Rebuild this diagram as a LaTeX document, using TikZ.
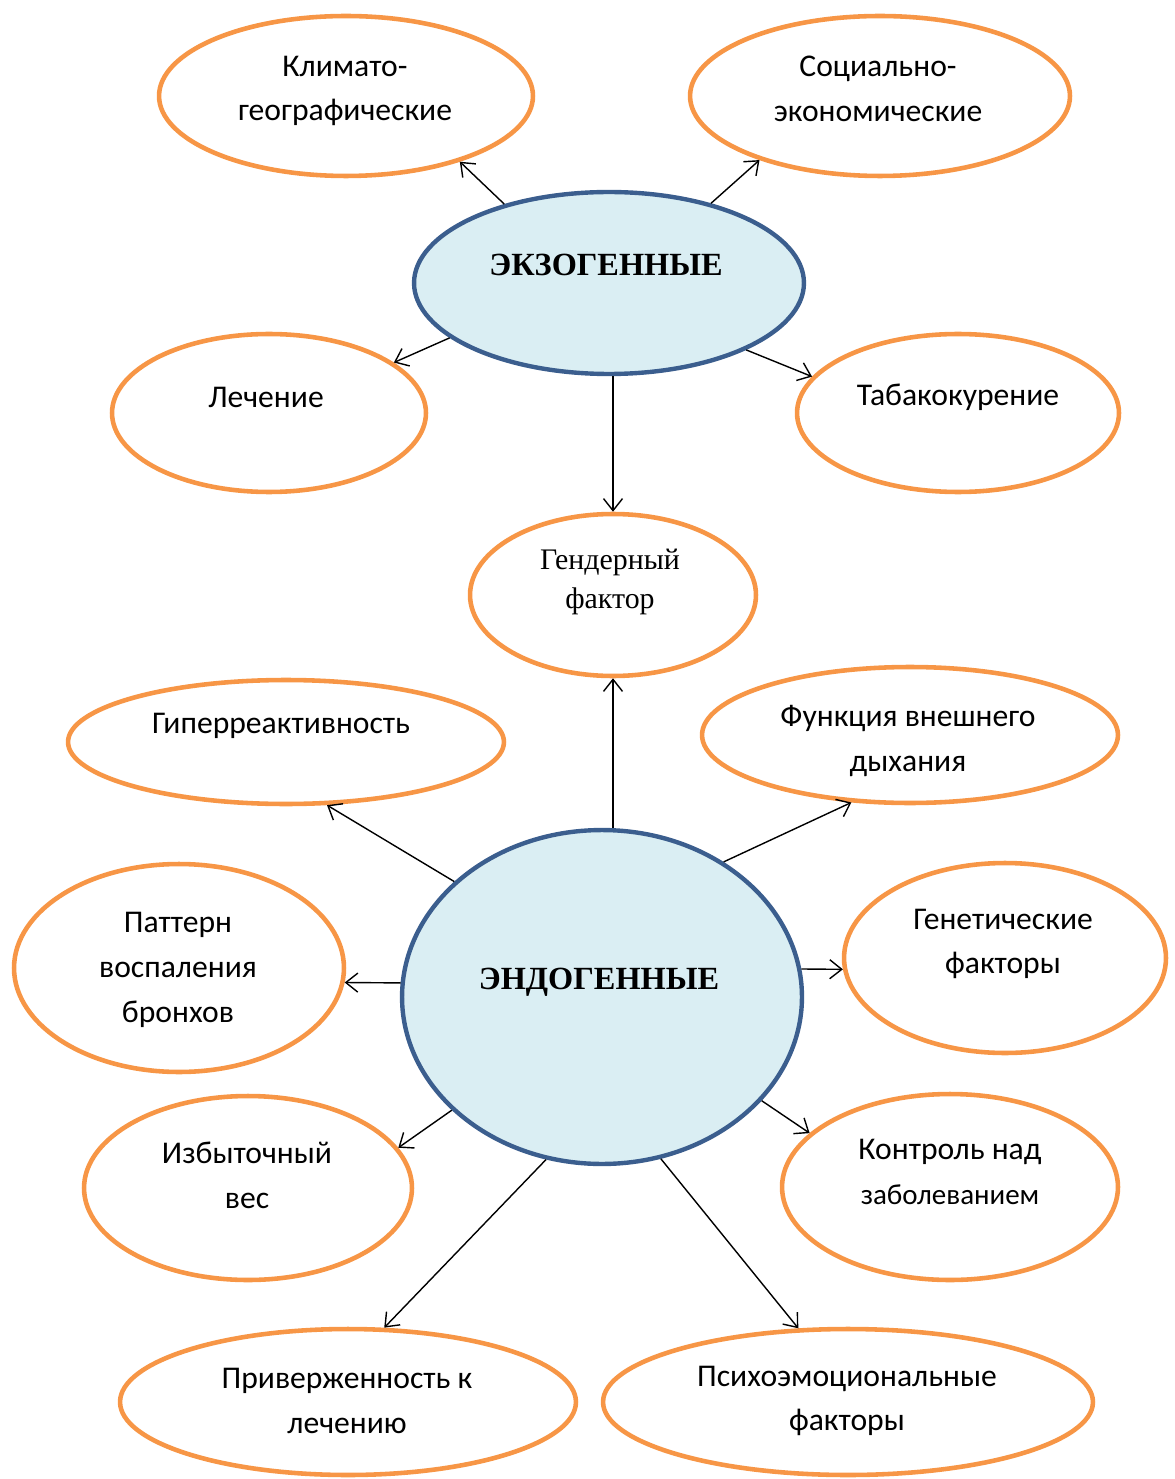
\documentclass[tikz,border=0pt]{standalone}
\usepackage{fontspec}
\setmainfont{Liberation Serif}
\newfontfamily\calib{Carlito}
\usetikzlibrary{arrows.meta,shapes.geometric}
\definecolor{ringorange}{HTML}{F79646}
\definecolor{coreblue}{HTML}{3B5E8E}
\definecolor{corefill}{HTML}{DAEEF3}

\begin{document}
\begin{tikzpicture}[x=0.02cm, y=-0.02cm,
  outer/.style={ellipse, draw=ringorange, line width=2.6pt, fill=white, inner sep=0pt},
  core/.style={ellipse, draw=coreblue, line width=2.5pt, fill=corefill, inner sep=0pt},
  lbl/.style={align=center, font=\calib\fontsize{18}{25.5}\selectfont, inner sep=0pt},
  corelbl/.style={font=\bfseries\fontsize{18.4}{22}\selectfont, inner sep=0pt},
  arr/.style={-{Straight Barb[length=2.4mm,width=3.8mm]}, line width=0.8pt}]
\useasboundingbox (0,0) rectangle (1174,1479);
% exogenous group
\node[core, minimum width=7.8cm, minimum height=3.64cm] (exo) at (609,283){};
\node[corelbl] (exo-t) at (606,265){ЭКЗОГЕННЫЕ};
\node[outer, minimum width=7.48cm, minimum height=3.2cm] (klimat) at (346,96){};
\node[lbl] (klimat-t) at (345,91){Климато-\\географические};
\node[outer, minimum width=7.6cm, minimum height=3.2cm] (social) at (880,96){};
\node[lbl] (social-t) at (878,89){Социально-\\экономические};
\node[outer, minimum width=6.28cm, minimum height=3.16cm] (lechenie) at (269,413){};
\node[lbl] (lechenie-t) at (266,397){Лечение};
\node[outer, minimum width=6.44cm, minimum height=3.16cm] (tabak) at (958,413){};
\node[lbl] (tabak-t) at (958,397){Табакокурение};
\node[outer, minimum width=5.72cm, minimum height=3.24cm] (gender) at (613,595){};
\node[align=center, font=\fontsize{17}{22.7}\selectfont, inner sep=0pt] (gender-t) at (610,582){Гендерный\\фактор};
% endogenous group
\node[core, minimum width=8.0cm, minimum height=6.68cm] (endo) at (602,997){};
\node[corelbl] (endo-t) at (599,982){ЭНДОГЕННЫЕ};
\node[outer, minimum width=8.72cm, minimum height=2.48cm] (giper) at (286,742){};
\node[lbl] (giper-t) at (281,726){Гиперреактивность};
\node[outer, minimum width=8.32cm, minimum height=2.72cm] (funk) at (910,735){};
\node[lbl] (funk-t) at (908,741){Функция внешнего\\дыхания};
\node[outer, minimum width=6.6cm, minimum height=4.16cm] (pattern) at (179,968){};
\node[lbl] (pattern-t) at (178,970){Паттерн\\воспаления\\бронхов};
\node[outer, minimum width=6.44cm, minimum height=3.8cm] (genet) at (1005,958){};
\node[lbl] (genet-t) at (1003,944){Генетические\\факторы};
\node[outer, minimum width=6.56cm, minimum height=3.68cm] (izbyt) at (248,1188){};
\node[lbl] (izbyt-t) at (247,1175){Избыточный\\вес};
\node[outer, minimum width=6.72cm, minimum height=3.72cm] (kontrol) at (950,1187){};
\node[lbl] (kontrol-t) at (950,1172){Контроль над\\{\fontsize{16.5}{25}\selectfont заболеванием}};
\node[outer, minimum width=9.12cm, minimum height=2.92cm] (priver) at (348,1402){};
\node[lbl] (priver-t) at (347,1401){Приверженность к\\лечению};
\node[outer, minimum width=9.8cm, minimum height=2.92cm] (psycho) at (848,1402){};
\node[lbl] (psycho-t) at (847,1401){Психоэмоциональные\\факторы};
% connectors
\draw[arr] (exo.143) -- (klimat.-30);
\draw[arr] (exo.38) -- (social.-152);
\draw[arr] (exo.199) -- (lechenie.22);
\draw[arr] (exo.-26) -- (tabak.166);
\draw[arr] (gender.north |- exo.south) -- (gender.north);
\draw[arr] (gender.south |- endo.north) -- (gender.south);
\draw[arr] (endo.142) -- (giper.-57);
\draw[arr] (endo.48) -- (funk.-131);
\draw[arr] (endo.176) -- (pattern.-5);
\draw[arr] (endo.8) -- (genet.184);
\draw[arr] (endo.217) -- (izbyt.15);
\draw[arr] (endo.-33) -- (kontrol.159);
\draw[arr] (endo.-109) -- (priver.64);
\draw[arr] (endo.-70) -- (psycho.124);
\end{tikzpicture}
\end{document}
